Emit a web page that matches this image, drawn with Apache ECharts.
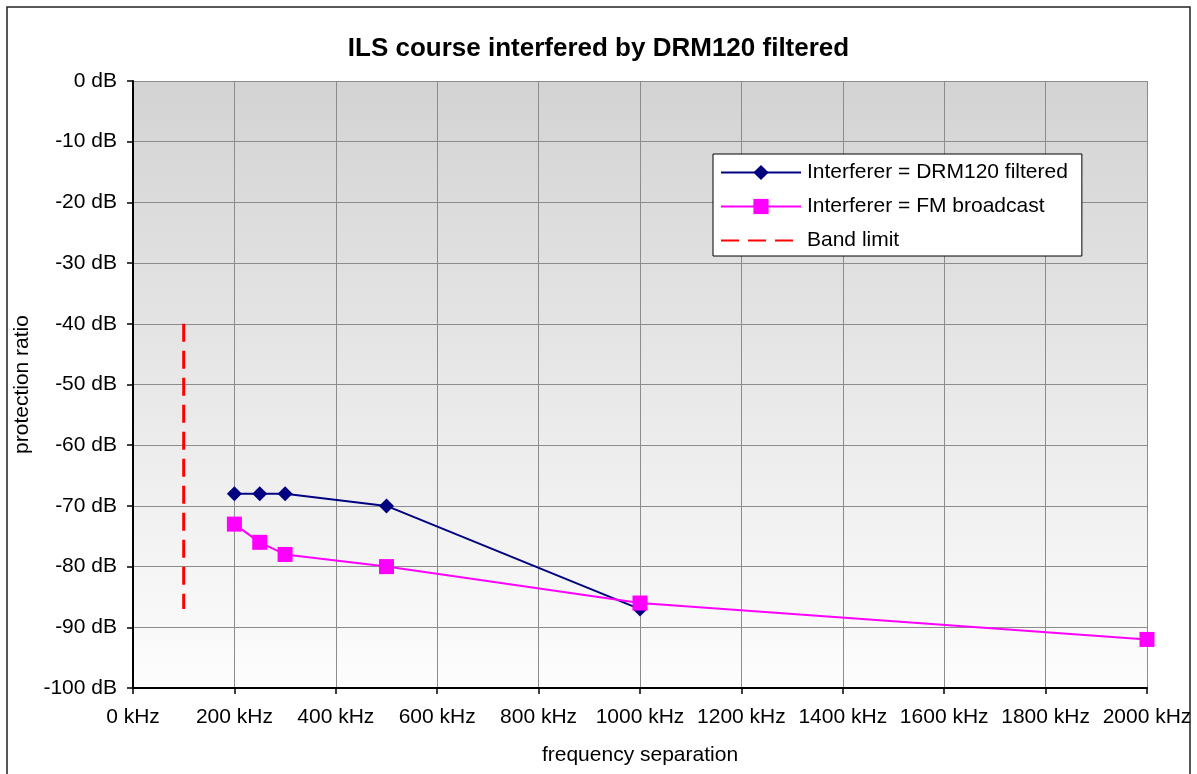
<!DOCTYPE html>
<html>
<head>
    <meta charset="utf-8"/>
    <title>ILS course interfered by DRM120 filtered</title>
    <script src="https://cdn.jsdelivr.net/npm/echarts@6/dist/echarts.min.js"></script>
    <style>
        html, body { margin: 0; padding: 0; background: #fff; }
    </style>
</head>
<body>
<div id="chart" style="width: 1197px; height: 774px;"></div>
<script type="text/javascript">
    // frequency separation in kHz, protection ratio in dB
    var drmFreq = [200, 250, 300, 500, 1000];
    var drmRatio = [-68, -68, -68, -70, -87];
    var fmFreq = [200, 250, 300, 500, 1000, 2000];
    var fmRatio = [-73, -76, -78, -80, -86, -92];
    var bandFreq = [100, 100];
    var bandRatio = [-40, -87];

    function pairs(xs, ys) {
        return xs.map(function (x, i) { return [x, ys[i]]; });
    }

    var font = 'Liberation Sans, Arial, sans-serif';
    var chart = echarts.init(document.getElementById('chart'));

    var option = {
        backgroundColor: '#fff',
        animation: false,
        textStyle: { fontFamily: font },
        title: {
            text: 'ILS course interfered by DRM120 filtered',
            left: 'center',
            top: 31,
            textStyle: { fontSize: 26, fontWeight: 'bold', color: '#000', fontFamily: font }
        },
        graphic: [{
            type: 'rect',
            shape: { x: 7, y: 7, width: 1183, height: 800 },
            style: { fill: 'none', stroke: '#222', lineWidth: 1.5 },
            silent: true
        }],
        grid: {
            left: 133, right: 50, top: 81, bottom: 86,
            show: true,
            borderWidth: 0,
            backgroundColor: new echarts.graphic.LinearGradient(0, 0, 0, 1, [
                { offset: 0, color: '#d3d3d3' },
                { offset: 1, color: '#fdfdfd' }
            ])
        },
        legend: {
            orient: 'vertical',
            left: 713,
            top: 154,
            padding: [8, 14, 5, 7],
            itemGap: 13,
            itemWidth: 80,
            itemHeight: 19,
            backgroundColor: '#fff',
            borderColor: '#000',
            borderWidth: 1,
            textStyle: { fontSize: 21, color: '#000', fontFamily: font, padding: [0, 0, 0, 1] },
            data: [
                'Interferer = DRM120 filtered',
                'Interferer = FM broadcast',
                { name: 'Band limit', itemStyle: { opacity: 0 } }
            ]
        },
        xAxis: {
            type: 'value',
            min: 0, max: 2000, interval: 200,
            name: 'frequency separation',
            nameLocation: 'middle',
            nameGap: 57,
            nameTextStyle: { fontSize: 21, color: '#000', fontFamily: font },
            axisLine: { show: true, onZero: false, lineStyle: { color: '#000', width: 2 } },
            axisTick: { show: true, length: 6, lineStyle: { color: '#000', width: 1.5 } },
            axisLabel: {
                color: '#000', fontSize: 21, margin: 19, fontFamily: font,
                formatter: function (v) { return v + ' kHz'; }
            },
            splitLine: { show: true, lineStyle: { color: '#8c8c8c', width: 1 } }
        },
        yAxis: {
            type: 'value',
            min: -100, max: 0, interval: 10,
            name: 'protection ratio',
            nameLocation: 'middle',
            nameRotate: 90,
            nameGap: 93,
            nameTextStyle: { fontSize: 21, color: '#000', fontFamily: font },
            axisLine: { show: true, onZero: false, lineStyle: { color: '#000', width: 2 } },
            axisTick: { show: true, length: 6, lineStyle: { color: '#000', width: 1.5 } },
            axisLabel: {
                color: '#000', fontSize: 21, margin: 16, fontFamily: font,
                formatter: function (v) { return v + ' dB'; }
            },
            splitLine: { show: true, lineStyle: { color: '#8c8c8c', width: 1 } }
        },
        series: [
            {
                name: 'Interferer = DRM120 filtered',
                type: 'line',
                data: pairs(drmFreq, drmRatio),
                symbol: 'diamond',
                symbolSize: 15,
                lineStyle: { color: '#000080', width: 2 },
                itemStyle: { color: '#000080' },
                z: 3
            },
            {
                name: 'Interferer = FM broadcast',
                type: 'line',
                data: pairs(fmFreq, fmRatio),
                symbol: 'rect',
                symbolSize: 15,
                lineStyle: { color: '#ff00ff', width: 2 },
                itemStyle: { color: '#ff00ff' },
                z: 4
            },
            {
                name: 'Band limit',
                type: 'line',
                data: pairs(bandFreq, bandRatio),
                symbol: 'none',
                lineStyle: { color: '#ff0000', width: 3, type: [18, 9] },
                itemStyle: { color: '#ff0000' },
                z: 2
            }
        ]
    };

    chart.setOption(option);
</script>
</body>
</html>
